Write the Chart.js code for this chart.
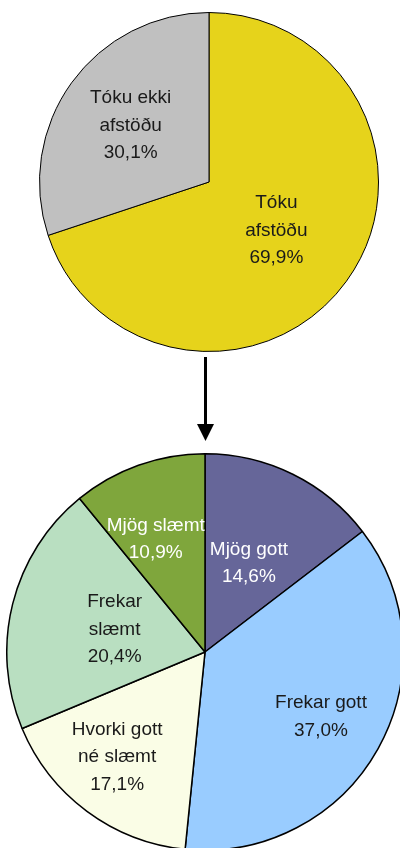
<!DOCTYPE html>
<html><head><meta charset="utf-8">
<script src="https://cdn.jsdelivr.net/npm/chart.js@4/dist/chart.umd.min.js"></script>
<style>
html,body{margin:0;padding:0;background:#fff;width:400px;height:848px;overflow:hidden;position:relative;}
#c1{position:absolute;left:39px;top:12px;}
#c2{position:absolute;left:6px;top:453px;}
svg{position:absolute;left:0;top:0;}
</style></head><body>
<canvas id="c1" width="340" height="340"></canvas>
<svg width="400" height="848"><line x1="205.5" y1="357" x2="205.5" y2="426" stroke="#000" stroke-width="3"/><polygon points="197,424 214,424 205.5,441" fill="#000"/></svg>
<canvas id="c2" width="398" height="398"></canvas>
<script>
// DATA
const topCategories = [["Tóku", "afstöðu"], ["Tóku ekki", "afstöðu"]];
const topValues = [69.9, 30.1];
const bottomCategories = [["Mjög gott"], ["Frekar gott"], ["Hvorki gott", "né slæmt"], ["Frekar", "slæmt"], ["Mjög slæmt"]];
const bottomValues = [14.6, 37.0, 17.1, 20.4, 10.9];

// STYLE
const topColors = ["#E6D31B", "#C0C0C0"];
const bottomColors = ["#666699", "#99CCFF", "#FAFDE6", "#B9DFC1", "#7FA63C"];
const topTextColors = ["#1a1a1a", "#1a1a1a"];
const bottomTextColors = ["#ffffff", "#1a1a1a", "#1a1a1a", "#1a1a1a", "#ffffff"];
const topLabelRadius = [0.49, 0.57];
const bottomLabelRadius = [0.5, 0.67, 0.69, 0.47, 0.62];
const bottomLabelAngleShift = [0, 0, 0.06, 0, -0.07];
const FONT = "19px 'Liberation Sans', Arial, sans-serif";
const LINE_H = 27.5;

function fmt(v){ return v.toFixed(1).replace('.', ',') + '%'; }

const labelPlugin = {
  id: 'sliceLabels',
  afterDatasetsDraw(chart) {
    const ctx = chart.ctx;
    const o = chart.options.plugins.sliceLabels;
    const meta = chart.getDatasetMeta(0);
    const ds = chart.data.datasets[0];
    ctx.save();
    ctx.font = FONT;
    ctx.textAlign = 'center';
    ctx.textBaseline = 'middle';
    meta.data.forEach((arc, i) => {
      const p = arc.getProps(['x','y','startAngle','endAngle','outerRadius'], true);
      const mid = (p.startAngle + p.endAngle) / 2 + (o.shift ? o.shift[i] : 0);
      const r = p.outerRadius * o.radius[i];
      const cx = p.x + Math.cos(mid) * r;
      const cy = p.y + Math.sin(mid) * r;
      const lines = chart.data.labels[i].concat([fmt(ds.data[i])]);
      ctx.fillStyle = o.colors[i];
      const y0 = cy - (lines.length - 1) * LINE_H / 2;
      lines.forEach((t, k) => ctx.fillText(t, cx, y0 + k * LINE_H));
    });
    ctx.restore();
  }
};

function makePie(id, labels, values, colors, bw, textColors, radius, shift) {
  return new Chart(document.getElementById(id), {
    type: 'pie',
    data: { labels: labels, datasets: [{ data: values, backgroundColor: colors, borderColor: '#000', borderWidth: bw, offset: 0, hoverOffset: 0 }] },
    options: {
      responsive: false, animation: false, devicePixelRatio: 1,
      layout: { padding: 0 },
      events: [],
      plugins: { legend: { display: false }, tooltip: { enabled: false },
        sliceLabels: { colors: textColors, radius: radius, shift: shift } }
    },
    plugins: [labelPlugin]
  });
}

makePie('c1', topCategories, topValues, topColors, 1, topTextColors, topLabelRadius, null);
makePie('c2', bottomCategories, bottomValues, bottomColors, 1.5, bottomTextColors, bottomLabelRadius, bottomLabelAngleShift);
</script>
</body></html>
